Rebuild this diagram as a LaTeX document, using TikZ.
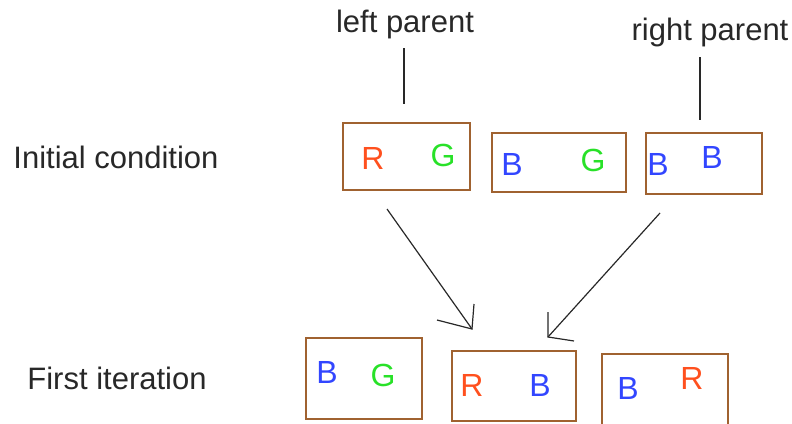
\documentclass[tikz,border=0pt]{standalone}
\usepackage{fontspec}
\setmainfont{Liberation Sans}
\definecolor{boxbrown}{RGB}{160,98,48}
\definecolor{letR}{RGB}{255,80,30}
\definecolor{letG}{RGB}{40,225,40}
\definecolor{letB}{RGB}{50,70,255}
\definecolor{ink}{RGB}{40,40,40}
\begin{document}
\begin{tikzpicture}[x=1pt,y=-1pt,
  box/.style={draw=boxbrown,line width=2pt,inner sep=0pt},
  lab/.style={font=\fontsize{31}{34}\selectfont,text=ink,inner sep=0pt},
  gene/.style={font=\fontsize{32}{35}\selectfont,inner sep=0pt},
  wire/.style={draw=ink,line width=1.2pt},
  stem/.style={draw=ink,line width=2pt}]
\useasboundingbox (0,0) rectangle (792,423);
\clip (0,0) rectangle (792,423);
% row labels
\node[lab] (init) at (116,157) {Initial condition};
\node[lab] (first) at (117,378) {First iteration};
\node[lab] (lp) at (405,24) {left parent};
\node[lab] (rp) at (710,32) {right parent};
% initial population
\node[box,minimum width=127pt,minimum height=67pt] (c1) at (406.5,156.5) {};
\node[box,minimum width=134pt,minimum height=59pt] (c2) at (559,162.5) {};
\node[box,minimum width=116pt,minimum height=61pt] (c3) at (704,163.5) {};
\node[gene,text=letR] (c1a) at (373,158) {R};
\node[gene,text=letG] (c1b) at (443,155) {G};
\node[gene,text=letB] (c2a) at (512,164) {B};
\node[gene,text=letG] (c2b) at (593,160) {G};
\node[gene,text=letB] (c3a) at (658,164) {B};
\node[gene,text=letB] (c3b) at (712,157) {B};
% first iteration
\node[box,minimum width=116pt,minimum height=81pt] (n1) at (364,378.5) {};
\node[box,minimum width=124pt,minimum height=70pt] (n2) at (514,386) {};
\draw[draw=boxbrown,line width=2pt] (602,440) |- (728,354) -- (728,440);
\coordinate (n3) at (665,390);
\node[gene,text=letB] (n1a) at (327,372) {B};
\node[gene,text=letG] (n1b) at (383,375) {G};
\node[gene,text=letR] (n2a) at (472,385) {R};
\node[gene,text=letB] (n2b) at (540,385) {B};
\node[gene,text=letB] (n3a) at (628,388) {B};
\node[gene,text=letR] (n3b) at (692,378) {R};
% parent markers
\coordinate (lpb) at (404,104);
\coordinate (rpb) at (700,120);
\draw[stem] (404,48) -- (lpb);
\draw[stem] (700,57) -- (rpb);
% crossover arrows
\coordinate (la) at (387,209);
\coordinate (lt) at (472,329);
\coordinate (ra) at (660,213);
\coordinate (rt) at (548,337);
\draw[wire] (la) -- (lt);
\draw[wire] (437,320) -- (lt) -- (474,304);
\draw[wire] (ra) -- (rt);
\draw[wire] (548,312) -- (rt) -- (574,341);
\end{tikzpicture}
\end{document}
